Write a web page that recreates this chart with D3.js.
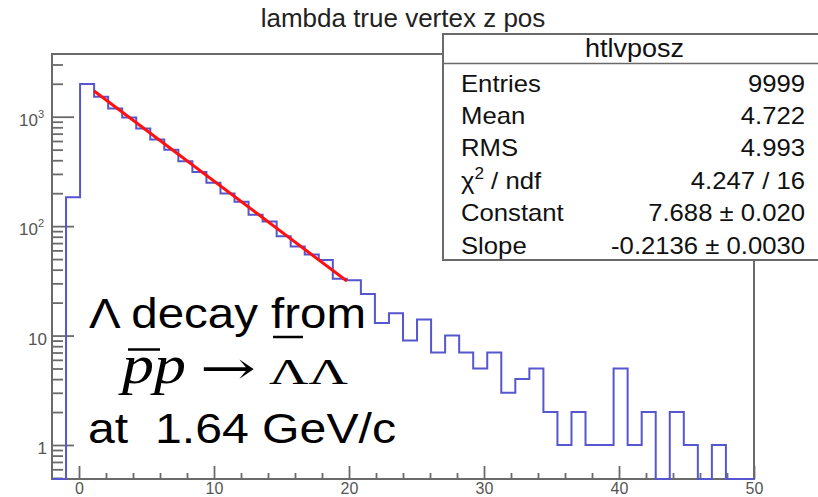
<!DOCTYPE html>
<html>
<head>
<meta charset="utf-8">
<script src="https://cdn.jsdelivr.net/npm/d3@7"></script>
<style>
  html, body { margin: 0; padding: 0; background: #fff; }
  svg { display: block; }
  svg text { font-family: "Liberation Sans", Arial, sans-serif; }
  svg text.serif { font-family: "Liberation Serif", "Times New Roman", serif; }
  svg text.arrow { font-family: "DejaVu Serif", "DejaVu Sans", serif; }
</style>
</head>
<body>
<svg id="chart" width="818" height="497"></svg>
<script>
// Histogram htlvposz: 50 bins of width 1.04 from -2 to 50 (z position of the lambda vertex)
const binLow = -2;
const binHigh = 50;
const binCounts = [
  0, 184, 1990, 1520, 1190, 985, 780, 620, 498, 391,
  313, 249, 199, 167, 127, 110, 81, 65, 55, 49,
  33, 32, 24, 13, 16, 9, 14, 7, 10, 7,
  5, 7, 3, 4, 5, 2, 1, 2, 1, 1,
  5, 1, 2, 0, 2, 1, 0, 1, 0, 0
];

// Exponential fit expo: exp(constant + slope * x) over the fitted bin range
const fitConstant = 7.688;
const fitSlope = -0.2136;
const fitRange = [1.12, 19.84];

// Axis ticks
const xMajorTicks = [0, 10, 20, 30, 40, 50];
const xMinorTicks = [2, 4, 6, 8, 12, 14, 16, 18, 22, 24, 26, 28, 32, 34, 36, 38, 42, 44, 46, 48];
const yMajorTicks = [1, 10, 100, 1000];
const yTickBase = ["1", "10", "10", "10"];
const yTickExp = ["", "", "2", "3"];
const yMinorTicks = [0.5, 0.6, 0.7, 0.8, 0.9,
  2, 3, 4, 5, 6, 7, 8, 9,
  20, 30, 40, 50, 60, 70, 80, 90,
  200, 300, 400, 500, 600, 700, 800, 900,
  2000, 3000];

// Statistics box
const statsTitle = "htlvposz";
const statLabels = ["Entries", "Mean", "RMS", "χ|2| / ndf", "Constant", "Slope"];
const statValues = ["9999", "4.722", "4.993", "4.247 / 16", "7.688 ± 0.020", "-0.2136 ± 0.0030"];

const plotTitle = "lambda true vertex z pos";

// ---------------------------------------------------------------
const svg = d3.select("#chart");
const frame = { left: 52, right: 754, top: 54, bottom: 479 };

const x = d3.scaleLinear().domain([binLow, binHigh]).range([frame.left, frame.right]);
const y = d3.scaleLog().domain([0.489, 3741]).range([frame.bottom, frame.top]);

const axisColor = "#6a6a6a";

svg.append("defs").append("clipPath").attr("id", "frameClip")
  .append("rect")
  .attr("x", frame.left).attr("y", frame.top - 2)
  .attr("width", frame.right - frame.left).attr("height", frame.bottom - frame.top + 3);

// frame
svg.append("rect")
  .attr("x", frame.left).attr("y", frame.top)
  .attr("width", frame.right - frame.left).attr("height", frame.bottom - frame.top)
  .attr("fill", "none").attr("stroke", axisColor).attr("stroke-width", 2);

// y axis (ticks drawn inward)
function styleAxis(g) {
  g.select(".domain").remove();
  g.selectAll(".tick line").attr("stroke", axisColor).attr("stroke-width", 1.8);
}
svg.append("g").attr("transform", `translate(${frame.left},0)`)
  .call(d3.axisLeft(y).tickValues(yMajorTicks).tickSizeInner(-22).tickSizeOuter(0).tickFormat(() => ""))
  .call(styleAxis);
svg.append("g").attr("transform", `translate(${frame.left},0)`)
  .call(d3.axisLeft(y).tickValues(yMinorTicks).tickSizeInner(-11).tickSizeOuter(0).tickFormat(() => ""))
  .call(styleAxis);

const yLabels = svg.append("g").attr("fill", "#555").attr("font-size", 17).attr("text-anchor", "end");
yMajorTicks.forEach((v, i) => {
  const t = yLabels.append("text")
    .attr("x", yTickExp[i] ? 44 : 47)
    .attr("y", y(v) + 9);
  t.append("tspan").text(yTickBase[i]);
  if (yTickExp[i]) {
    t.append("tspan").attr("font-size", 11).attr("dy", -8).text(yTickExp[i]);
  }
});

// x axis (ticks drawn upward)
svg.append("g").attr("transform", `translate(0,${frame.bottom})`)
  .call(d3.axisBottom(x).tickValues(xMajorTicks).tickSizeInner(-13).tickSizeOuter(0).tickPadding(4).tickFormat(d3.format("d")))
  .call(styleAxis)
  .call(g => g.selectAll(".tick text").attr("fill", "#555").attr("font-size", 16));
svg.append("g").attr("transform", `translate(0,${frame.bottom})`)
  .call(d3.axisBottom(x).tickValues(xMinorTicks).tickSizeInner(-6).tickSizeOuter(0).tickFormat(() => ""))
  .call(styleAxis);

// histogram outline
const binWidth = (binHigh - binLow) / binCounts.length;
const stepPoints = [[binLow, null]];
binCounts.forEach((c, k) => {
  const lo = binLow + k * binWidth;
  stepPoints.push([lo, c], [lo + binWidth, c]);
});
stepPoints.push([binHigh, null]);
const yOf = c => (c && c > 0) ? y(c) : frame.bottom;
svg.append("path")
  .attr("clip-path", "url(#frameClip)")
  .attr("d", d3.line().x(d => x(d[0])).y(d => yOf(d[1]))(stepPoints))
  .attr("fill", "none").attr("stroke", "#5656cf").attr("stroke-width", 2);

// fitted exponential (a straight line on the log scale)
const fitPoints = fitRange.map(z => [z, Math.exp(fitConstant + fitSlope * z)]);
svg.append("path")
  .attr("d", d3.line().x(d => x(d[0])).y(d => y(d[1]))(fitPoints))
  .attr("fill", "none").attr("stroke", "#ff1010").attr("stroke-width", 3);

// annotation
const note = svg.append("g").attr("fill", "#000");
note.append("text")
  .attr("x", 89).attr("y", 328).attr("font-size", 42)
  .attr("textLength", 277).attr("lengthAdjust", "spacingAndGlyphs")
  .text("Λ decay from");
note.append("text")
  .attr("x", 88).attr("y", 443).attr("font-size", 42)
  .style("white-space", "pre")
  .attr("textLength", 308).attr("lengthAdjust", "spacingAndGlyphs")
  .text("at  1.64 GeV/c");
note.append("text").attr("class", "serif")
  .attr("x", 122).attr("y", 383).attr("font-size", 54).attr("font-style", "italic")
  .attr("textLength", 64).attr("lengthAdjust", "spacingAndGlyphs")
  .text("pp");
note.append("text").attr("class", "arrow")
  .attr("x", 200).attr("y", 384).attr("font-size", 46)
  .attr("textLength", 56).attr("lengthAdjust", "spacingAndGlyphs")
  .text("→");
note.append("text").attr("class", "serif")
  .attr("x", 269).attr("y", 384).attr("font-size", 36)
  .attr("textLength", 79).attr("lengthAdjust", "spacingAndGlyphs")
  .text("ΛΛ");
// bars over the antiparticles
note.append("line").attr("x1", 128).attr("x2", 160).attr("y1", 349.5).attr("y2", 349.5)
  .attr("stroke", "#000").attr("stroke-width", 2.5);
note.append("line").attr("x1", 273).attr("x2", 303).attr("y1", 337).attr("y2", 337)
  .attr("stroke", "#000").attr("stroke-width", 2.5);

// statistics box
const box = { left: 443, top: 34, bottom: 260, header: 63.5 };
svg.append("rect")
  .attr("x", box.left).attr("y", box.top)
  .attr("width", 400).attr("height", box.bottom - box.top)
  .attr("fill", "#fff").attr("stroke", axisColor).attr("stroke-width", 2);
svg.append("line")
  .attr("x1", box.left).attr("x2", 818).attr("y1", box.header).attr("y2", box.header)
  .attr("stroke", axisColor).attr("stroke-width", 1.5);
svg.append("text")
  .attr("transform", "translate(634.5,56.5) scale(1.08,1)")
  .attr("text-anchor", "middle").attr("font-size", 25).attr("fill", "#111")
  .text(statsTitle);

const rowBaselines = d3.range(statLabels.length).map(i => 91.5 + i * 32.4);
statLabels.forEach((lab, i) => {
  const t = svg.append("text")
    .attr("transform", `translate(461,${rowBaselines[i]}) scale(1.07,1)`)
    .attr("font-size", 24).attr("fill", "#111");
  lab.split("|").forEach((part, j) => {
    const s = t.append("tspan").text(part);
    if (j === 1) s.attr("font-size", 16).attr("dy", -10);
    if (j === 2) s.attr("dy", 10);
  });
  svg.append("text")
    .attr("transform", `translate(805,${rowBaselines[i]}) scale(1.07,1)`)
    .attr("text-anchor", "end").attr("font-size", 24).attr("fill", "#111")
    .text(statValues[i]);
});

// title
svg.append("text")
  .attr("x", 403).attr("y", 26.5)
  .attr("text-anchor", "middle").attr("font-size", 26).attr("fill", "#222")
  .text(plotTitle);
</script>
</body>
</html>
